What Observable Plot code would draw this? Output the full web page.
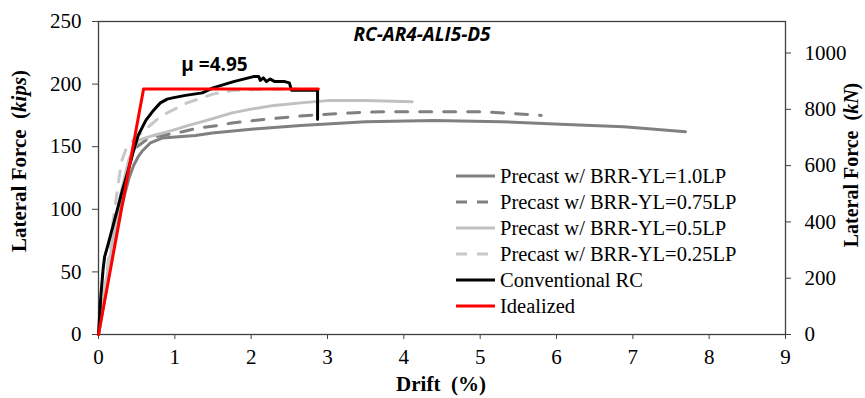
<!DOCTYPE html>
<html>
<head>
<meta charset="utf-8">
<script src="https://cdn.jsdelivr.net/npm/d3@7"></script>
<script src="https://cdn.jsdelivr.net/npm/@observablehq/plot@0.6"></script>
<style>
  body { margin: 0; background: #fff; }
  #chart { width: 865px; height: 398px; }
</style>
</head>
<body>
<div id="chart"></div>
<script>
// Unit conversion for the secondary (kN) axis
const KN_PER_KIP = 4.448;

// Tick values
const driftTicks = [0, 1, 2, 3, 4, 5, 6, 7, 8, 9];
const kipsTicks = [0, 50, 100, 150, 200, 250];
const kNTicks = [0, 200, 400, 600, 800, 1000];

// Pushover curves: drift (%) and lateral force (kips)
const driftYL100 = [0, 0.1, 0.2, 0.3, 0.4, 0.46, 0.52, 0.58, 0.68, 0.84, 1.05, 1.27, 1.49, 2.0, 2.65, 3.5, 4.4, 5.27, 6.05, 6.88, 7.69];
const forceYL100 = [0, 35, 70, 102, 125, 135, 142, 147, 153, 157, 158, 159, 161, 164, 167, 170, 171, 170, 168, 166, 162];

const driftYL75 = [0, 0.1, 0.2, 0.3, 0.4, 0.48, 0.66, 0.84, 1.1, 1.31, 1.57, 1.75, 2.2, 2.74, 3.3, 3.73, 4.39, 5.04, 5.8];
const forceYL75 = [0, 38, 75, 108, 135, 149, 157, 159, 162, 165, 167, 169, 172, 175, 177, 178, 178, 178, 175];

const driftYL50 = [0, 0.1, 0.2, 0.3, 0.4, 0.52, 0.72, 0.97, 1.18, 1.36, 1.53, 1.75, 2.0, 2.3, 2.65, 3.04, 3.5, 4.11];
const forceYL50 = [0, 42, 80, 115, 140, 155, 159, 163, 167, 170, 173, 177, 180, 183, 185, 187, 187, 186];

const driftYL25 = [0, 0.1, 0.2, 0.3, 0.36, 0.45, 0.62, 0.77, 0.9, 1.16, 1.5, 1.77, 2.2, 2.6];
const forceYL25 = [0, 45, 95, 138, 148, 155, 164, 172, 177, 185, 192, 195, 196, 196];

const driftRC = [0, 0.03, 0.06, 0.08, 0.13, 0.2, 0.29, 0.38, 0.46, 0.52, 0.62, 0.72, 0.81, 0.9, 0.97, 1.14, 1.36, 1.5, 1.77, 2.03, 2.1, 2.12, 2.16, 2.2, 2.25, 2.31, 2.44, 2.5, 2.53, 2.87, 2.87];
const forceRC = [0, 30, 52, 62, 73, 89, 110, 129, 147, 159, 171, 179, 185, 188, 189, 191, 193, 197, 202, 206, 206, 203, 205, 202, 204, 202, 202, 201, 195, 195, 172];

const driftIdeal = [0, 0.59, 2.88];
const forceIdeal = [0, 196, 196];

const seriesNames = [
  "Precast w/ BRR-YL=1.0LP",
  "Precast w/ BRR-YL=0.75LP",
  "Precast w/ BRR-YL=0.5LP",
  "Precast w/ BRR-YL=0.25LP",
  "Conventional RC",
  "Idealized"
];

const chartTitle = "RC-AR4-ALI5-D5";
const ductilityLabel = "\u03bc =4.95";

// Series table built from the arrays above
const seriesData = [
  [driftYL100, forceYL100],
  [driftYL75, forceYL75],
  [driftYL50, forceYL50],
  [driftYL25, forceYL25],
  [driftRC, forceRC],
  [driftIdeal, forceIdeal]
];
const seriesStyle = [
  {stroke: "#808080", dash: null},
  {stroke: "#808080", dash: "12,12"},
  {stroke: "#c0c0c0", dash: null},
  {stroke: "#c8c8c8", dash: "11,11"},
  {stroke: "#000000", dash: null},
  {stroke: "#ff0000", dash: null}
];
const series = seriesNames.map((name, i) => ({
  name,
  ...seriesStyle[i],
  points: seriesData[i][0].map((d, j) => ({drift: d, force: seriesData[i][1][j]}))
}));

const serif = "'Liberation Serif', 'Times New Roman', serif";
const sans = "'Open Sans', 'Noto Sans', sans-serif";

const chart = Plot.plot({
  width: 865,
  height: 398,
  marginLeft: 98,
  marginRight: 80,
  marginTop: 21,
  marginBottom: 64,
  x: {domain: [0, 9]},
  y: {domain: [0, 250]},
  style: {fontFamily: serif, fontSize: "21px", color: "#000", background: "#fff", overflow: "visible"},
  marks: [
    Plot.frame({stroke: "#404040", strokeWidth: 1.3}),
    Plot.axisX({ticks: driftTicks, tickSize: 5, tickPadding: 10, label: null, stroke: "#404040", fontSize: 21}),
    Plot.axisY({ticks: kipsTicks, tickSize: 6, tickPadding: 11, label: null, stroke: "#404040", fontSize: 21}),
    Plot.axisY(kNTicks.map(k => k / KN_PER_KIP), {
      anchor: "right",
      tickSize: 5,
      tickPadding: 14,
      label: null,
      stroke: "#404040",
      fontSize: 21,
      textAnchor: "start",
      tickFormat: d => String(Math.round(d * KN_PER_KIP))
    }),
    ...series.map(s => Plot.line(s.points, {
      x: "drift",
      y: "force",
      stroke: s.stroke,
      strokeWidth: 3,
      strokeDasharray: s.dash,
      strokeLinejoin: "round"
    })),
    Plot.text([chartTitle], {
      frameAnchor: "top", dx: -20, dy: 13, lineAnchor: "middle",
      text: d => d, fontFamily: sans, fontSize: 19, fontWeight: "bold", fontStyle: "italic", fill: "#000"
    }),
    Plot.text([ductilityLabel], {
      frameAnchor: "top-left", dx: 116, dy: 43, lineAnchor: "middle", textAnchor: "middle",
      text: d => d, fontFamily: sans, fontSize: 19, fontWeight: "bold", fill: "#000"
    })
  ]
});

document.getElementById("chart").appendChild(chart);

// Axis titles (bold serif, with italic units)
const svg = d3.select(chart);
function axisTitle(x, y, rotate, size, parts) {
  const t = svg.append("text")
    .attr("transform", `translate(${x},${y}) rotate(${rotate})`)
    .attr("text-anchor", "middle")
    .attr("dy", "0.35em")
    .attr("font-family", serif)
    .attr("font-size", size)
    .attr("font-weight", "bold")
    .attr("fill", "#000")
    .style("white-space", "pre");
  parts.forEach(([str, italic]) => {
    t.append("tspan").attr("font-style", italic ? "italic" : "normal").text(str);
  });
}
axisTitle(19, 161, -90, 21, [["Lateral Force  (", false], ["kips", true], [")", false]]);
axisTitle(851, 165, -90, 20, [["Lateral Force  (", false], ["kN", true], [")", false]]);
axisTitle(441, 384, 0, 21, [["Drift  (%)", false]]);

// Legend inside the plot area
const legend = svg.append("g").attr("transform", "translate(456,176)");
series.forEach((s, i) => {
  const row = legend.append("g").attr("transform", `translate(0,${i * 26})`);
  row.append("line")
    .attr("x1", 0).attr("x2", 39).attr("y1", 0).attr("y2", 0)
    .attr("stroke", s.stroke).attr("stroke-width", 3)
    .attr("stroke-dasharray", s.dash ? "11,10" : null);
  row.append("text")
    .attr("x", 44).attr("dy", "0.33em")
    .attr("text-anchor", "start")
    .attr("font-family", serif).attr("font-size", 20.5).attr("fill", "#000")
    .text(s.name);
});
</script>
</body>
</html>
